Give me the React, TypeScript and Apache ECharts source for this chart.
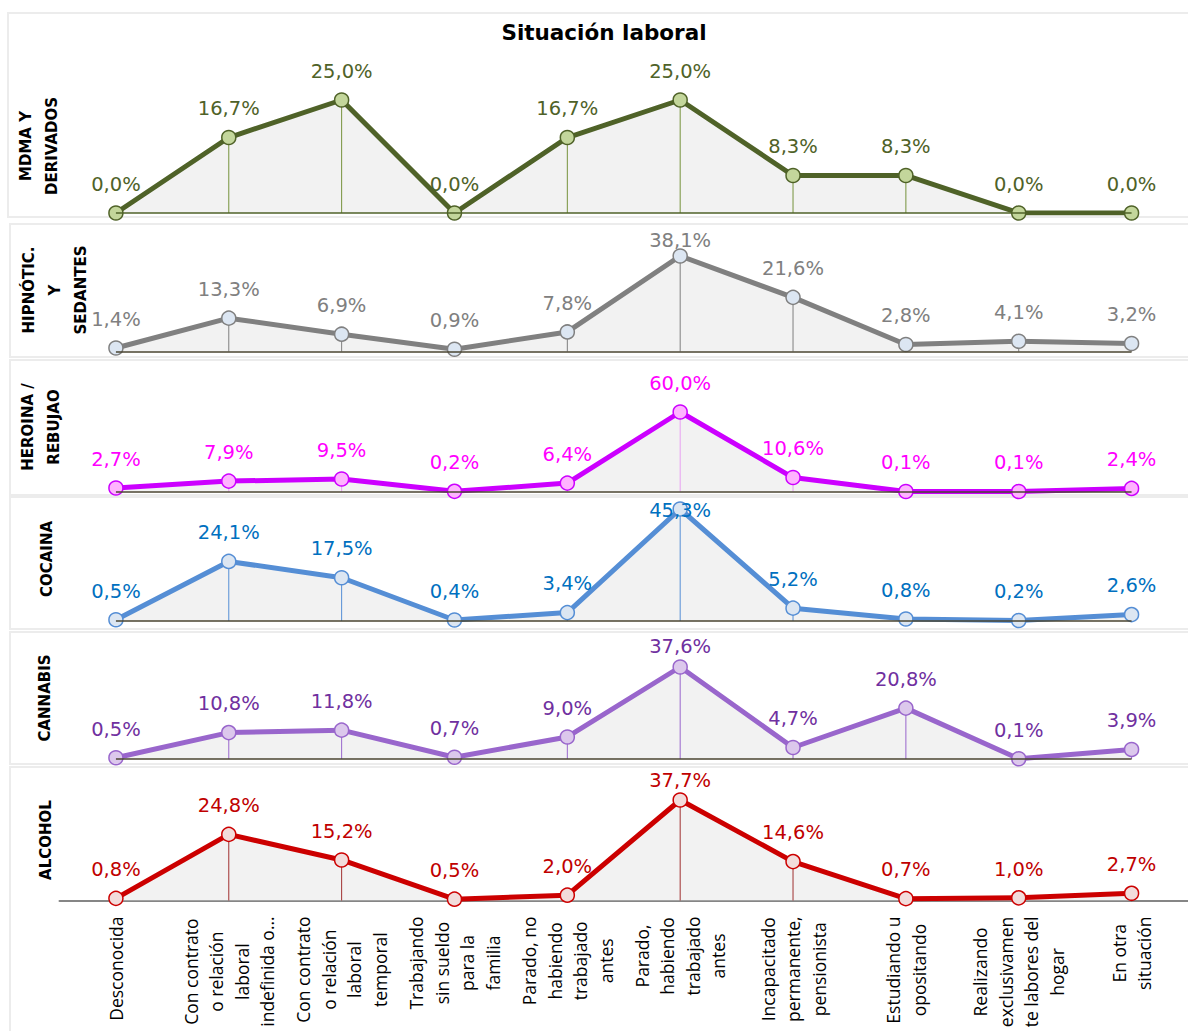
import React, { useEffect, useRef } from "react";
import * as echarts from "echarts";

// Employment situation categories (x axis)
const categories = [
  "Desconocida",
  "Con contrato\no relación\nlaboral\nindefinida o…",
  "Con contrato\no relación\nlaboral\ntemporal",
  "Trabajando\nsin sueldo\npara la\nfamilia",
  "Parado, no\nhabiendo\ntrabajado\nantes",
  "Parado,\nhabiendo\ntrabajado\nantes",
  "Incapacitado\npermanente,\npensionista",
  "Estudiando u\nopositando",
  "Realizando\nexclusivamen\nte labores del\nhogar",
  "En otra\nsituación",
];

// Percentages per substance
const mdma = [0.0, 16.7, 25.0, 0.0, 16.7, 25.0, 8.3, 8.3, 0.0, 0.0];
const hipnoticos = [1.4, 13.3, 6.9, 0.9, 7.8, 38.1, 21.6, 2.8, 4.1, 3.2];
const heroina = [2.7, 7.9, 9.5, 0.2, 6.4, 60.0, 10.6, 0.1, 0.1, 2.4];
const cocaina = [0.5, 24.1, 17.5, 0.4, 3.4, 45.3, 5.2, 0.8, 0.2, 2.6];
const cannabis = [0.5, 10.8, 11.8, 0.7, 9.0, 37.6, 4.7, 20.8, 0.1, 3.9];
const alcohol = [0.8, 24.8, 15.2, 0.5, 2.0, 37.7, 14.6, 0.7, 1.0, 2.7];

const panelTitles = [
  "MDMA Y\nDERIVADOS",
  "HIPNÓTIC.\nY\nSEDANTES",
  "HEROINA /\nREBUJAO",
  "COCAINA",
  "CANNABIS",
  "ALCOHOL",
];

const panelValues = [mdma, hipnoticos, heroina, cocaina, cannabis, alcohol];

const chartTitle = "Situación laboral";

// Layout and styling for each panel
const panelStyles = [
  {
    top: 100, height: 113, box: [8, 13, 204], titleX: 39, titleY: 146,
    line: "#4f6228", fill: "#c3d69b", label: "#4f6228", drop: "#76923c", base: "#4f6228",
    nudge: {} as Record<number, number>,
  },
  {
    top: 256, height: 95.5, box: [10, 224, 133], titleX: 55, titleY: 290,
    line: "#808080", fill: "#dce6f2", label: "#808080", drop: "#7f7f7f", base: "#4a4530",
    nudge: { 5: 13 } as Record<number, number>,
  },
  {
    top: 412, height: 79.6, box: [10, 360, 135], titleX: 41, titleY: 427,
    line: "#cc00ff", fill: "#ffb3ff", label: "#ff00ff", drop: "#e8a0f2", base: "#4a4530",
    nudge: {} as Record<number, number>,
  },
  {
    top: 509, height: 112, box: [10, 497, 132], titleX: 47, titleY: 559,
    line: "#558ed5", fill: "#dce6f2", label: "#0070c0", drop: "#558ed5", base: "#4a4530",
    nudge: { 5: 30 } as Record<number, number>,
  },
  {
    top: 667, height: 92, box: [10, 632, 132], titleX: 45, titleY: 698,
    line: "#9966cc", fill: "#dcc8ec", label: "#7030a0", drop: "#9966cc", base: "#4a4530",
    nudge: { 5: 8 } as Record<number, number>,
  },
  {
    top: 800, height: 100.5, box: [10, 767, 280], titleX: 46, titleY: 840,
    line: "#cc0000", fill: "#f2dcdb", label: "#c00000", drop: "#a03030", base: "#868686",
    nudge: { 5: 9 } as Record<number, number>,
  },
];

const fmtPct = (v: number) => v.toFixed(1).replace(".", ",") + "%";

function buildOption() {
  const last = panelStyles.length - 1;
  const grid = panelStyles.map((p) => ({
    left: 59.5,
    width: 1130,
    top: p.top,
    height: p.height,
    containLabel: false,
  }));

  const xAxis = panelStyles.map((p, i) => ({
    type: "category",
    gridIndex: i,
    data: categories,
    boundaryGap: true,
    axisTick: { show: false },
    axisLine: { show: i === last, lineStyle: { color: p.base, width: 2 } },
    splitLine: { show: false },
    axisLabel:
      i === last
        ? {
            show: true,
            interval: 0,
            rotate: 90,
            margin: 16,
            color: "#000",
            fontFamily: "Open Sans",
            fontSize: 17.5,
            lineHeight: 25,
            formatter: (v: string) =>
              v
                .split("\n")
                .map((l) => `{c|${l}}`)
                .join("\n"),
            rich: {
              c: {
                align: "center",
                fontFamily: "Open Sans",
                fontSize: 17.5,
                lineHeight: 25.5,
                color: "#000",
              },
            },
          }
        : { show: false },
  }));

  const yAxis = panelStyles.map((_, i) => ({
    type: "value",
    gridIndex: i,
    min: 0,
    max: "dataMax",
    show: false,
    splitLine: { show: false },
  }));

  const series: any[] = [];
  panelStyles.forEach((p, i) => {
    const vals = panelValues[i];
    // grey area under the line, plus the baseline between first and last point
    series.push({
      type: "line",
      xAxisIndex: i,
      yAxisIndex: i,
      data: vals,
      symbol: "none",
      silent: true,
      z: 1,
      lineStyle: { width: 0, opacity: 0 },
      areaStyle: { color: "#f2f2f2", opacity: 1 },
      markLine:
        i === last
          ? undefined
          : {
              silent: true,
              symbol: ["none", "none"],
              label: { show: false },
              lineStyle: { color: p.base, width: 1.5, type: "solid" },
              data: [[{ coord: [0, 0] }, { coord: [vals.length - 1, 0] }]],
            },
    });
    // thin drop lines from each point to the baseline
    series.push({
      type: "bar",
      xAxisIndex: i,
      yAxisIndex: i,
      data: vals,
      barWidth: 1,
      silent: true,
      z: 2,
      itemStyle: { color: p.drop },
    });
    // main line with markers and value labels
    series.push({
      type: "line",
      xAxisIndex: i,
      yAxisIndex: i,
      z: 3,
      data: vals.map((v, j) =>
        p.nudge[j] !== undefined ? { value: v, label: { offset: [0, p.nudge[j]] } } : v
      ),
      symbol: "circle",
      symbolSize: 14,
      lineStyle: { color: p.line, width: 5 },
      itemStyle: { color: p.fill, borderColor: p.line, borderWidth: 1.5 },
      label: {
        show: true,
        position: "top",
        distance: 11,
        color: p.label,
        fontFamily: "DejaVu Sans",
        fontSize: 19.5,
        formatter: (prm: any) => fmtPct(prm.value),
      },
    });
  });

  const graphic: any[] = [];
  panelStyles.forEach((p, i) => {
    graphic.push({
      type: "rect",
      z: -10,
      silent: true,
      shape: { x: p.box[0], y: p.box[1], width: 1188 - p.box[0] + 4, height: p.box[2] },
      style: { fill: "#ffffff", stroke: "#ececec", lineWidth: 2 },
    });
    graphic.push({
      type: "text",
      x: p.titleX,
      y: p.titleY,
      rotation: Math.PI / 2,
      silent: true,
      style: {
        text: panelTitles[i],
        font: 'bold 15px "DejaVu Sans"',
        fill: "#000",
        align: "center",
        verticalAlign: "middle",
        lineHeight: 26,
      },
    });
  });

  return {
    animation: false,
    backgroundColor: "#ffffff",
    title: {
      text: chartTitle,
      left: 599,
      top: 16,
      textAlign: "center",
      textStyle: { fontFamily: "DejaVu Sans", fontWeight: "bold", fontSize: 21.5, color: "#000" },
    },
    grid,
    xAxis,
    yAxis,
    series,
    graphic,
  };
}

export default function App() {
  const ref = useRef<HTMLDivElement>(null);
  useEffect(() => {
    if (!ref.current) return;
    const chart = echarts.init(ref.current, undefined, { renderer: "svg" });
    chart.setOption(buildOption() as any);
    return () => chart.dispose();
  }, []);
  return (
    <div
      ref={ref}
      style={{ position: "absolute", left: 0, top: 0, width: 1188, height: 1031, overflow: "hidden" }}
    />
  );
}
